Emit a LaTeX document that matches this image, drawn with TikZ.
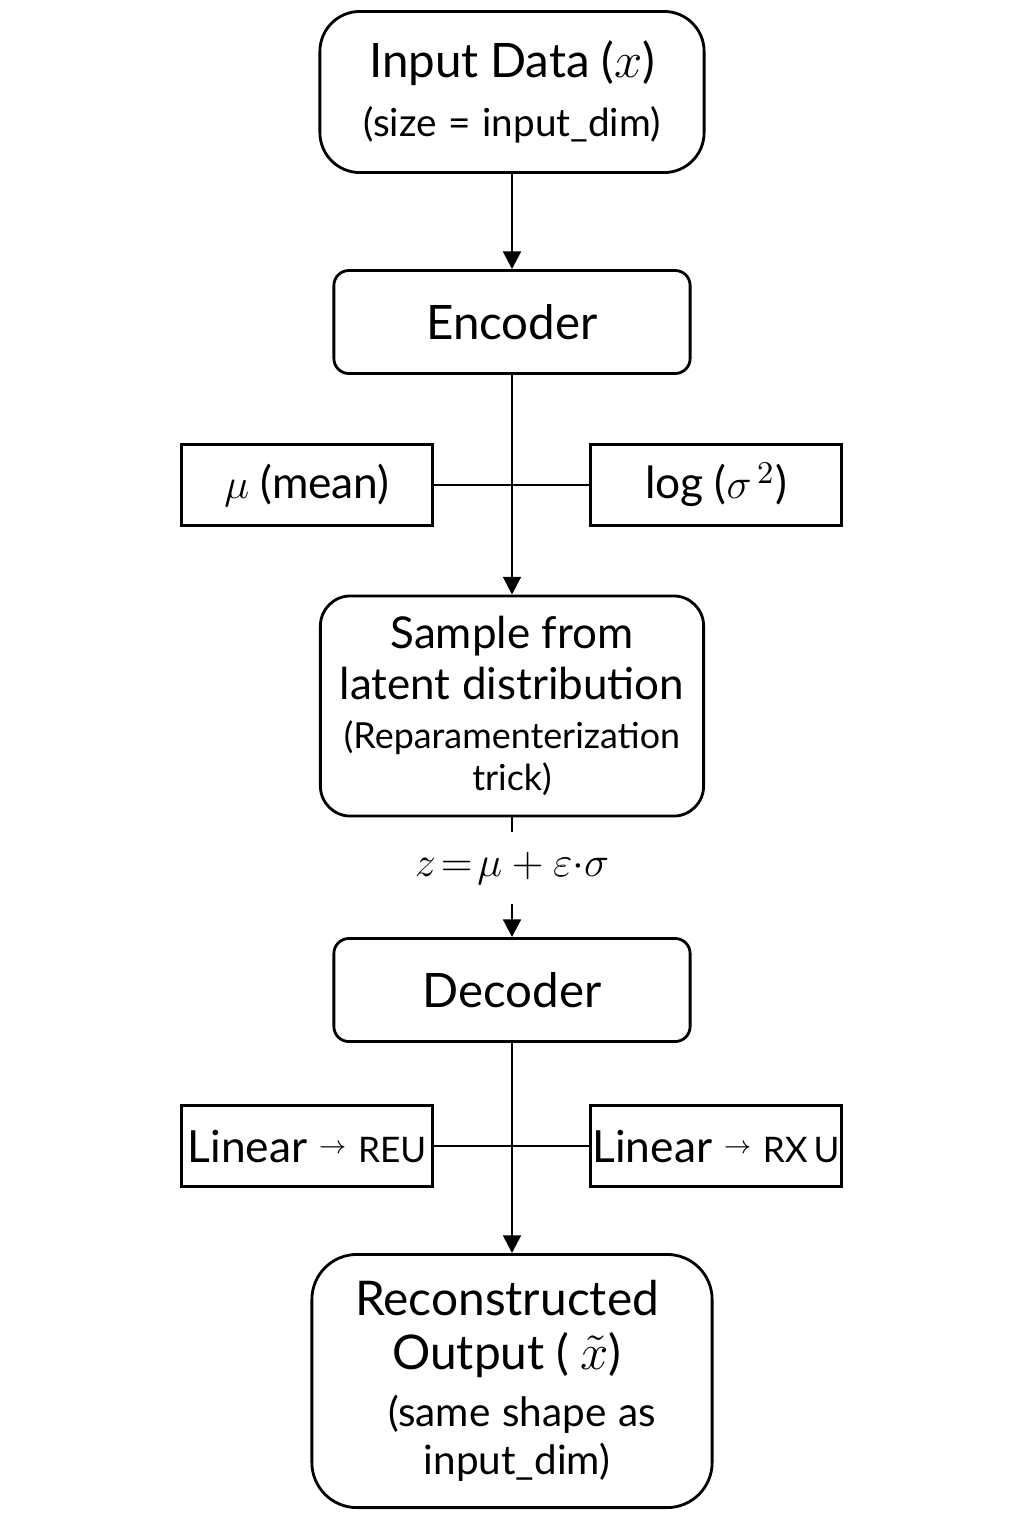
\documentclass[tikz,border=0pt]{standalone}
\usepackage{fontspec}
\setmainfont{Lato}
\usetikzlibrary{arrows.meta}

\newcommand{\smallarrow}{{\fontsize{7}{7}\selectfont\raisebox{2.3pt}{$\rightarrow$}}}

\begin{document}
\begin{tikzpicture}[x=0.01cm, y=-0.01cm, line width=0.8pt,
    roundbox/.style = {draw, rounded corners=0.4cm, align=center, inner sep=0pt},
    stagebox/.style = {draw, rounded corners=0.15cm, minimum width=3.56cm,
                       minimum height=1.03cm, font=\fontsize{13.5}{16}\selectfont},
    parambox/.style = {draw, minimum width=2.51cm, minimum height=0.81cm, inner sep=0pt},
    flow/.style = {-{Triangle[length=5pt, width=5pt]}}]
  \useasboundingbox (0,0) rectangle (1024,1536);

  % main column
  \node[roundbox, text width=3.6cm, minimum width=3.84cm, minimum height=1.61cm]
    (input) at (512,92)
    {\fontsize{13.5}{16}\selectfont Input Data ($x$)\par\vspace{3.9pt}
     \fontsize{11}{13}\selectfont (size = input\_dim)\par\vspace{-2.3pt}};
  \node[stagebox] (encoder) at (512,322) {Encoder};
  \node[roundbox, rounded corners=0.3cm, text width=3.7cm, minimum width=3.83cm,
    minimum height=2.2cm] (sample) at (512,706)
    {\fontsize{12.5}{14.5}\selectfont Sample from\\ latent distribution\par\vspace{2pt}
     \fontsize{10.2}{12}\selectfont (Reparamenterization\\ trick)\par\vspace{-2pt}};
  \node[minimum height=0.7cm, inner sep=0pt, font=\fontsize{11.5}{14}\selectfont]
    (reparam) at (512,868) {$z\!=\!\mu + \varepsilon{\cdot}\sigma$};
  \node[stagebox] (decoder) at (512,990) {Decoder};
  \node[roundbox, rounded corners=0.45cm, text width=3.8cm, minimum width=4cm,
    minimum height=2.53cm] (output) at (512,1381)
    {\fontsize{13.6}{15.4}\selectfont \hspace*{-0.1cm}Reconstructed\\
     \hspace*{-0.1cm}Output ( $\tilde{x}$)\par\vspace{2.5pt}
     \fontsize{11.5}{13.7}\selectfont \hspace*{0.2cm}(same shape as\\
     \hspace*{0.1cm}input\_dim)\par\vspace{-1.8pt}};

  % side boxes
  \node[parambox, font=\fontsize{12.6}{15}\selectfont] (mean) at (307,485) {$\mu$ (mean)};
  \node[parambox, font=\fontsize{12.6}{15}\selectfont] (logvar) at (716,485) {log ($\sigma^{\,2}$)};
  \node[parambox, font=\fontsize{12.6}{15}\selectfont] (linleft) at (307,1146)
    {Linear \smallarrow\ {\fontsize{10}{12}\selectfont REU}};
  \node[parambox, font=\fontsize{12.6}{15}\selectfont] (linright) at (716,1146)
    {Linear \smallarrow\ {\fontsize{10}{12}\selectfont RX\,U}};

  % connectors
  \draw[flow] (input) -- (encoder);
  \draw[flow] (encoder) -- (sample);
  \draw (mean) -- (logvar);
  \draw (sample) -- (reparam);
  \draw[flow] (reparam) -- (decoder);
  \draw[flow] (decoder) -- (output);
  \draw (linleft) -- (linright);
\end{tikzpicture}
\end{document}
